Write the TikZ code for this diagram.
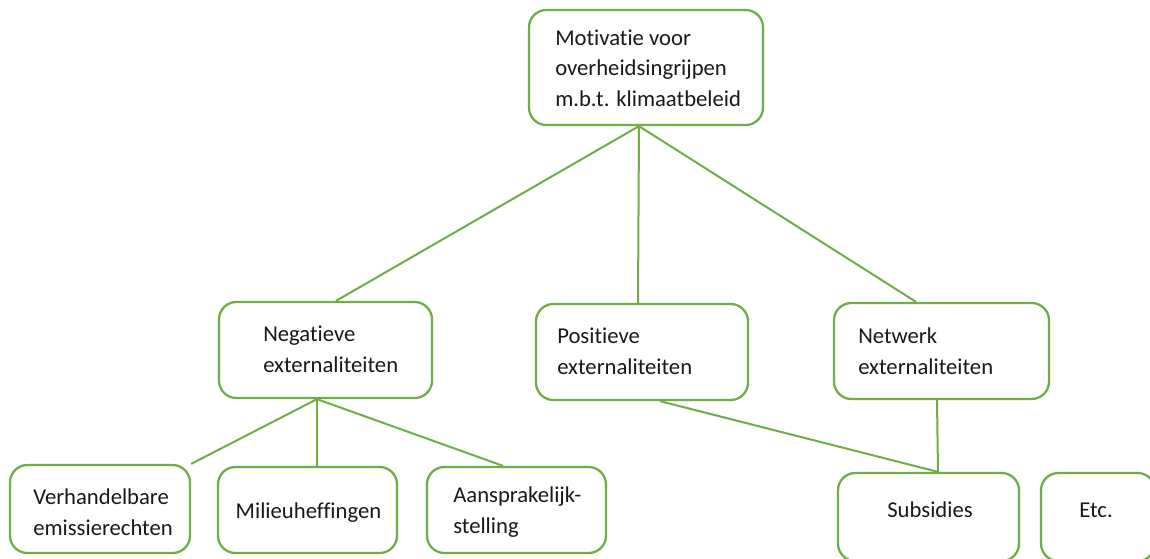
\documentclass[tikz,border=0pt]{standalone}
\usepackage{fontspec}
\setmainfont{Carlito}[Ligatures=NoCommon]
\usetikzlibrary{calc}
\definecolor{leaf}{RGB}{112,173,71}
\tikzset{
  box/.style={draw=leaf, line width=1.7pt, rounded corners=13pt, fill=white, inner sep=0pt},
  txt/.style={inner sep=0pt, align=left, font=\fontsize{17}{23}\selectfont, text=black!90},
  link/.style={draw=leaf, line width=1.5pt},
}
\begin{document}
\begin{tikzpicture}[x=0.75pt, y=-0.75pt]
\useasboundingbox[fill=white] (0,0) rectangle (1150,558);
\clip (0,0) rectangle (1150,558);

% boxes (centre, size in px)
\node[box, minimum width=175.5pt, minimum height=86.25pt] (top) at (646,67.5) {};
\node[box, minimum width=159.75pt, minimum height=72pt] (neg) at (325.5,350) {};
\node[box, minimum width=159pt, minimum height=72pt] (pos) at (642,352) {};
\node[box, minimum width=161.25pt, minimum height=72pt] (net) at (941.5,351) {};
\node[box, minimum width=135pt, minimum height=66pt] (verh) at (100,509) {};
\node[box, minimum width=134.25pt, minimum height=64.5pt] (mil) at (307.5,510) {};
\node[box, minimum width=134.25pt, minimum height=64.5pt] (aans) at (516.5,510) {};
\node[box, minimum width=135.75pt, minimum height=66pt] (sub) at (928.5,517) {};
\node[box, minimum width=85.5pt, minimum height=66pt] (etc) at (1098,517) {};

% texts
\node[txt, anchor=west] (topT) at (555,68) {Motivatie voor\\overheidsingrijpen\\m.b.t. klimaatbeleid};
\node[txt, anchor=west] (negT) at (263,349) {Negatieve\\externaliteiten};
\node[txt, anchor=west] (posT) at (557,351) {Positieve\\externaliteiten};
\node[txt, anchor=west] (netT) at (858,351.5) {Netwerk\\externaliteiten};
\node[txt, anchor=west] (verhT) at (33,512) {Verhandelbare\\emissierechten};
\node[txt] (milT) at (308.5,513) {Milieuheffingen};
\node[txt, anchor=west] (aansT) at (453,512) {Aansprakelijk-\\stelling};
\node[txt] (subT) at (930,510) {Subsidies};
\node[txt] (etcT) at (1096,510) {Etc.};

% connectors
\draw[link] ($(top.south)+(-7,0)$) -- ($(neg.north)+(10.5,0)$);
\draw[link] ($(top.south)+(-7,0)$) -- ($(pos.north)+(-4,0)$);
\draw[link] ($(top.south)+(-7,0)$) -- ($(net.north)+(-25.5,0)$);
\draw[link] ($(neg.south)+(-8.5,0)$) -- (verh.north east);
\draw[link] ($(neg.south)+(-8.5,0)$) -- ($(mil.north)+(9.5,0)$);
\draw[link] ($(neg.south)+(-8.5,0)$) -- ($(aans.north)+(-13.5,0)$);
\draw[link] ($(pos.south)+(18,0)$) -- ($(sub.north)+(9.5,0)$);
\draw[link] ($(net.south)+(-4.5,0)$) -- ($(sub.north)+(9.5,0)$);
\end{tikzpicture}
\end{document}
